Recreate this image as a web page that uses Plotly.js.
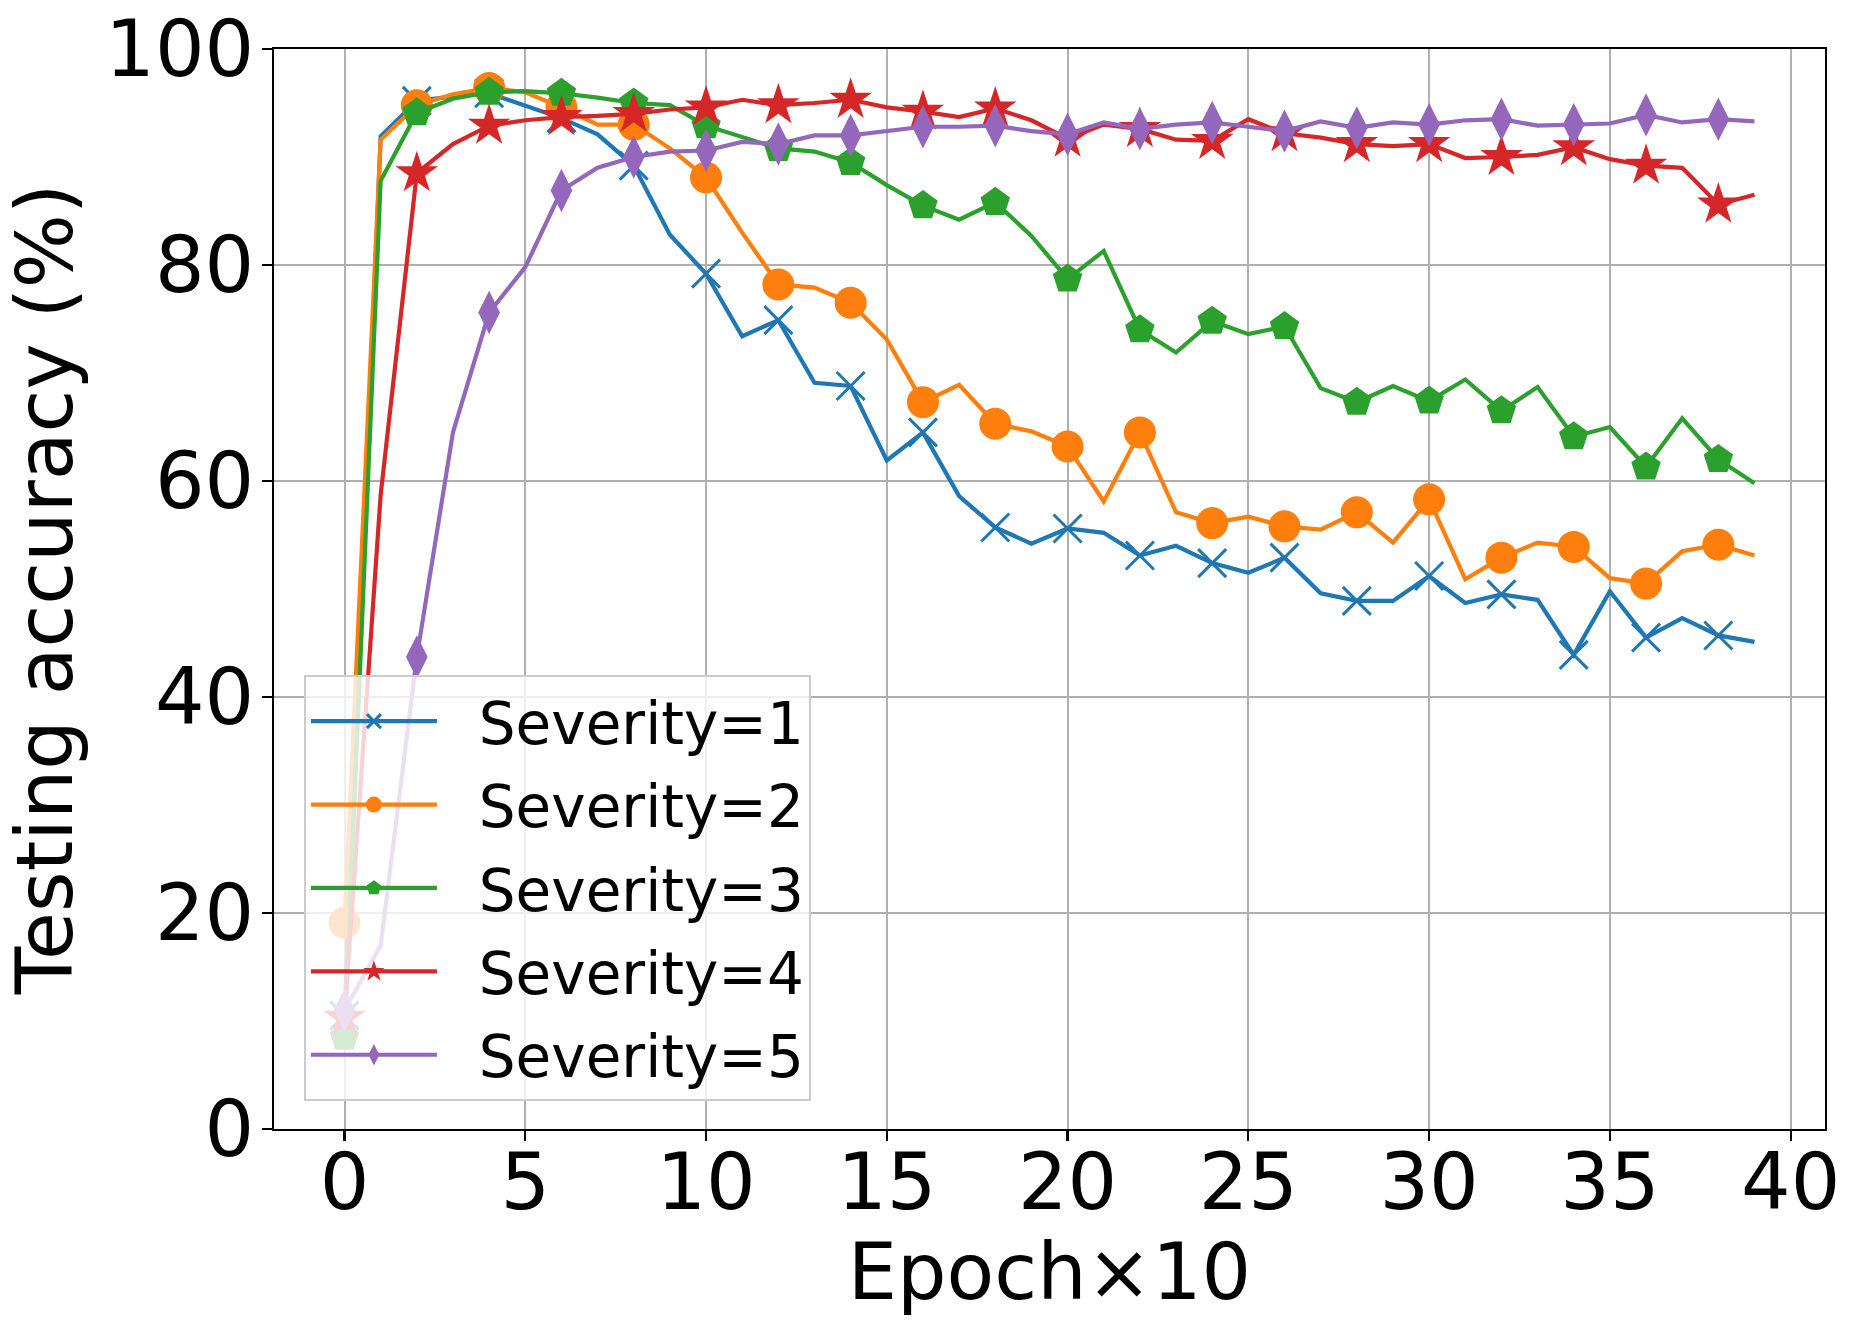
<!DOCTYPE html>
<html>
<head>
<meta charset="utf-8">
<script src="https://cdn.plot.ly/plotly-3.0.1.min.js"></script>
<style>
  body { margin: 0; background: #fff; }
  #chart { width: 1860px; height: 1334px; }
</style>
</head>
<body>
<div id="chart"></div>
<script>
// epochs (x10) and testing accuracy per severity
var epochs = [0, 1, 2, 3, 4, 5, 6, 7, 8, 9, 10, 11, 12, 13, 14, 15, 16, 17, 18, 19,
  20, 21, 22, 23, 24, 25, 26, 27, 28, 29, 30, 31, 32, 33, 34, 35, 36, 37, 38, 39];

var severity1 = [10.5, 91.9, 95.2, 95.6, 95.9, 94.8, 93.6, 92.1, 89.2, 82.8,
  79.2, 73.4, 74.9, 69.1, 68.8, 61.9, 64.5, 58.6, 55.7, 54.2,
  55.6, 55.2, 53.1, 54.0, 52.4, 51.5, 52.9, 49.6, 48.9, 48.9,
  51.2, 48.7, 49.5, 49.0, 43.9, 49.8, 45.5, 47.3, 45.7, 45.1];
var severity2 = [19.1, 91.6, 94.8, 95.8, 96.4, 96.0, 94.6, 93.0, 93.0, 90.8,
  88.1, 83.0, 78.2, 77.9, 76.5, 73.1, 67.3, 68.9, 65.3, 64.6,
  63.2, 58.1, 64.5, 57.1, 56.1, 56.7, 55.8, 55.5, 57.1, 54.3,
  58.3, 50.9, 52.9, 54.3, 53.9, 51.0, 50.5, 53.5, 54.1, 53.1];
var severity3 = [8.5, 87.8, 94.1, 95.4, 96.0, 96.1, 95.9, 95.5, 95.0, 94.8,
  92.9, 91.8, 90.8, 90.5, 89.5, 87.4, 85.5, 84.2, 85.8, 82.7,
  78.7, 81.3, 74.0, 71.9, 74.8, 73.6, 74.3, 68.6, 67.3, 68.8,
  67.4, 69.4, 66.5, 68.7, 64.1, 65.0, 61.3, 65.8, 62.0, 59.8];
var severity4 = [10.3, 58.7, 88.5, 91.2, 92.9, 93.4, 93.7, 93.8, 94.0, 94.4,
  94.6, 95.3, 94.8, 95.0, 95.3, 94.6, 94.2, 93.7, 94.5, 93.4,
  91.7, 93.0, 92.6, 91.6, 91.5, 93.5, 92.2, 91.8, 91.2, 91.0,
  91.2, 89.9, 90.0, 90.2, 90.9, 89.8, 89.2, 89.0, 85.6, 86.5];
var severity5 = [11.0, 17.0, 43.7, 64.5, 75.6, 79.8, 86.9, 89.0, 90.0, 90.5,
  90.6, 91.4, 91.2, 92.0, 92.0, 92.4, 92.8, 92.8, 92.9, 92.4,
  92.1, 93.2, 92.6, 93.0, 93.2, 92.8, 92.4, 93.3, 92.7, 93.2,
  93.0, 93.4, 93.5, 92.9, 93.0, 93.1, 93.9, 93.2, 93.5, 93.3];

var seriesNames = ["Severity=1", "Severity=2", "Severity=3", "Severity=4", "Severity=5"];
var seriesValues = [severity1, severity2, severity3, severity4, severity5];
var colors = ["#1f77b4", "#ff7f0e", "#2ca02c", "#d62728", "#9467bd"];
var symbols = ["x-thin", "circle", "pentagon", "star", "diamond-tall"];
var markerSizes = [28, 32, 31, 32, 31];

var font = "DejaVu Sans, sans-serif";

// markers only on every second epoch (like markevery=2)
function everyOther(size) {
  return epochs.map(function (e, i) {
    return i % 2 === 0 ? size : 0;
  });
}

var traces = [];
for (var k = 0; k < seriesNames.length; k++) {
  var isX = symbols[k] === "x-thin";
  traces.push({
    x: epochs,
    y: seriesValues[k],
    // leading no-break spaces give the gap between legend line and label
    name: "\u00a0\u00a0" + seriesNames[k],
    legendgroup: "g" + k,
    type: "scatter",
    mode: "lines+markers",
    line: { color: colors[k], width: 4.2 },
    marker: {
      symbol: symbols[k],
      size: everyOther(markerSizes[k]),
      opacity: 1,
      color: colors[k],
      line: { color: colors[k], width: isX ? 3 : 0 }
    }
  });
}

var axisCommon = {
  showgrid: true,
  gridcolor: "#b0b0b0",
  gridwidth: 2,
  zeroline: false,
  showline: true,
  linecolor: "#000000",
  linewidth: 2.2,
  mirror: true,
  ticks: "outside",
  ticklen: 10,
  tickwidth: 2.2,
  tickcolor: "#000000",
  tickfont: { family: font, size: 78, color: "#000000" }
};

var layout = {
  width: 1860,
  height: 1334,
  margin: { l: 274, r: 35, t: 49, b: 205 },
  paper_bgcolor: "#ffffff",
  plot_bgcolor: "#ffffff",
  showlegend: true,
  xaxis: Object.assign({}, axisCommon, {
    range: [-1.95, 40.95],
    tickvals: [0, 5, 10, 15, 20, 25, 30, 35, 40],
    ticklabelstandoff: -26,
    title: { text: "Epoch×10", font: { family: font, size: 78, color: "#000000" }, standoff: 18 }
  }),
  yaxis: Object.assign({}, axisCommon, {
    range: [0, 100],
    tickvals: [0, 20, 40, 60, 80, 100],
    ticklabelstandoff: -8,
    title: { text: "Testing accuracy (%)", font: { family: font, size: 78, color: "#000000" }, standoff: 26 }
  }),
  legend: {
    x: 0.0193,
    y: 0.4204,
    xanchor: "left",
    yanchor: "top",
    bgcolor: "rgba(255,255,255,0.8)",
    bordercolor: "#cccccc",
    borderwidth: 2,
    traceorder: "grouped",
    tracegroupgap: 5,
    itemwidth: 126,
    font: { family: font, size: 58, color: "#000000" }
  }
};

Plotly.newPlot("chart", traces, layout, { staticPlot: true });
</script>
</body>
</html>
